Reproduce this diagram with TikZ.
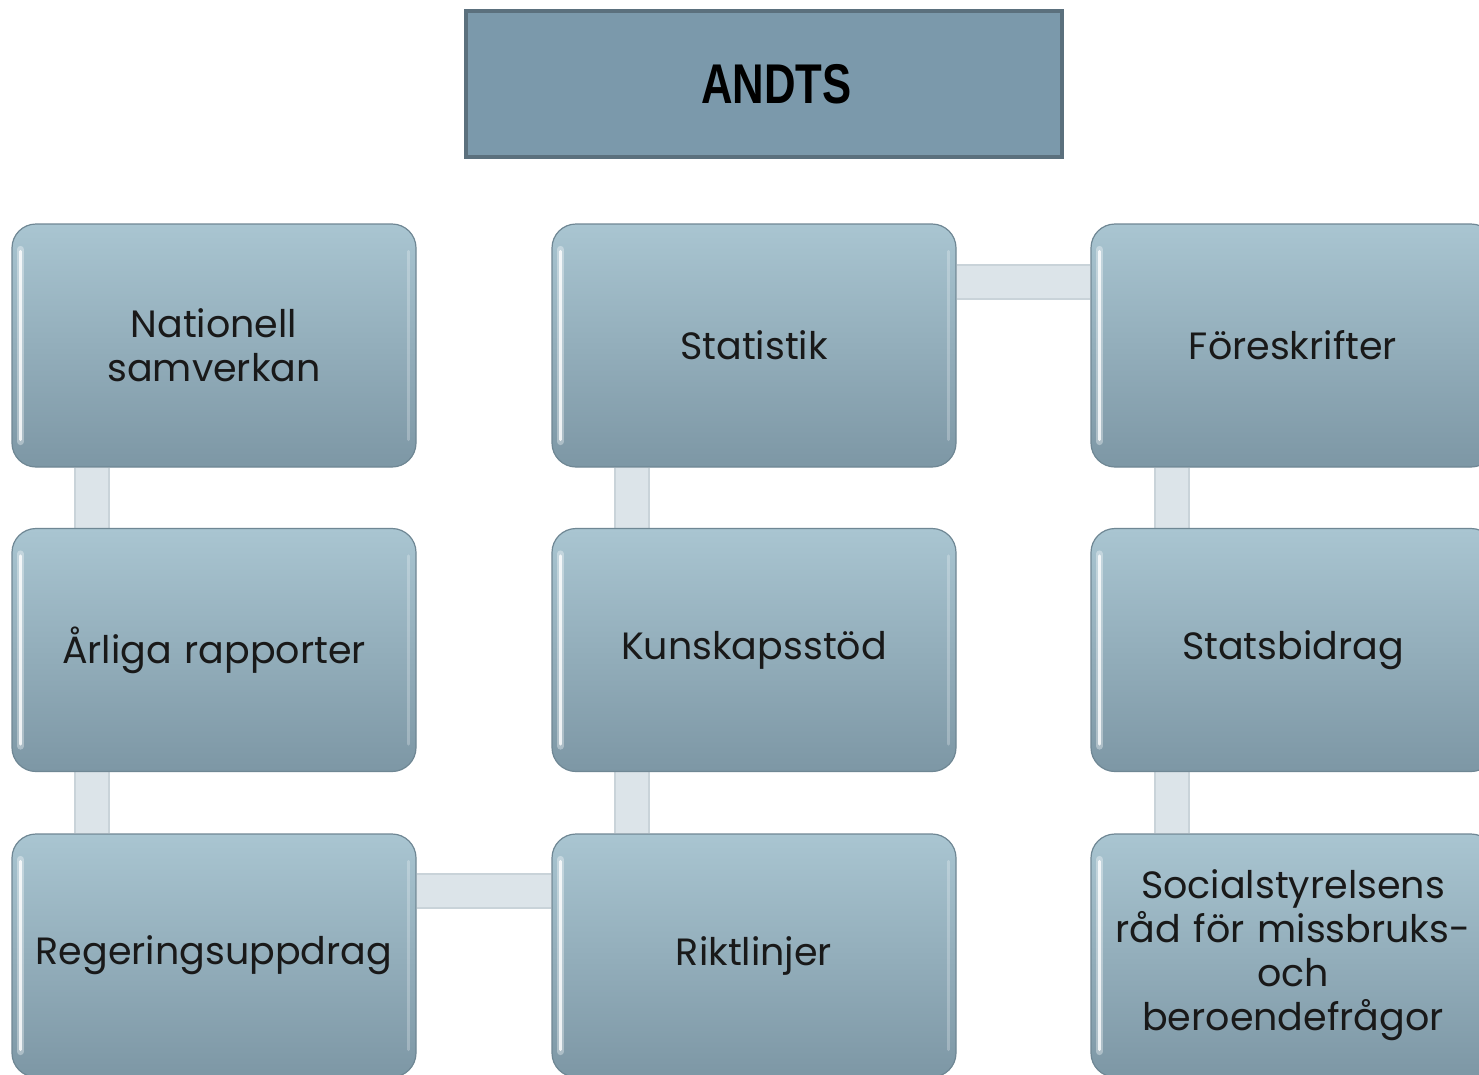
\documentclass[tikz,border=0pt]{standalone}
\usepackage{fontspec}
\setmainfont{Poppins}
\newfontfamily\titlefont{Liberation Sans}
\usetikzlibrary{backgrounds,calc}
\definecolor{boxtop}{HTML}{A9C5D1}
\definecolor{boxbot}{HTML}{7D97A5}
\definecolor{boxedge}{HTML}{6F8794}
\definecolor{connfill}{HTML}{DCE4E9}
\definecolor{connedge}{HTML}{C9D3D9}
\definecolor{titlefill}{HTML}{7B99AB}
\definecolor{titleedge}{HTML}{5B707D}
\tikzset{
  box/.style={rounded corners=24pt, minimum width=404pt, minimum height=243pt,
    top color=boxtop, bottom color=boxbot, draw=boxedge, line width=1.2pt,
    align=center, text width=390pt, font=\fontsize{38}{44}\selectfont, text=black!90,
    inner sep=0pt},
  conn/.style={line width=36pt, connedge},
  conninner/.style={line width=32pt, connfill},
}
\begin{document}
\begin{tikzpicture}[x=1pt,y=-1pt]
\useasboundingbox (0,0) rectangle (1479,1074);
% title
\node[draw=titleedge, fill=titlefill, line width=4pt, minimum width=596pt, minimum height=146pt, inner sep=0pt]
  (title) at (763.5,84) {\hspace*{26pt}\titlefont\bfseries\fontsize{56}{60}\selectfont\scalebox{0.78}[1]{ANDTS}};
% boxes
\node[box] (n1) at (214,345.5) {Nationell\\samverkan};
\node[box] (n2) at (214,650) {Årliga rapporter};
\node[box] (n3) at (214,955.5) {Regeringsuppdrag};
\node[box] (n4) at (754,345.5) {Statistik};
\node[box] (n5) at (754,650) {Kunskapsstöd};
\node[box] (n6) at (754,955.5) {Riktlinjer};
\node[box] (n7) at (1293,345.5) {Föreskrifter};
\node[box] (n8) at (1293,650) {Statsbidrag};
\node[box] (n9) at (1293,955.5) {Socialstyrelsens\\råd för missbruks-\\och\\beroendefrågor};
% highlights
\foreach \n in {n1,n2,n3,n4,n5,n6,n7,n8,n9}{
  \draw[white, opacity=0.35, line width=7pt, line cap=round]
    ([xshift=9pt,yshift=-26pt]\n.north west) -- ([xshift=9pt,yshift=26pt]\n.south west);
  \draw[white, opacity=0.8, line width=3pt, line cap=round]
    ([xshift=9pt,yshift=-28pt]\n.north west) -- ([xshift=9pt,yshift=28pt]\n.south west);
  \draw[white, opacity=0.25, line width=3pt, line cap=round]
    ([xshift=-8pt,yshift=-28pt]\n.north east) -- ([xshift=-8pt,yshift=28pt]\n.south east);
}
\begin{scope}[on background layer]
\fill[white] (0,0) rectangle (1479,1074);
\foreach \a/\b/\s in {n1/n2/81,n2/n3/81,n4/n5/81,n5/n6/81,n7/n8/82,n8/n9/82}{
  \draw[conn] ([xshift=\s pt]\a.south west) -- ([xshift=\s pt]\b.north west);
  \draw[conninner] ([xshift=\s pt]\a.south west) -- ([xshift=\s pt]\b.north west);
}
\draw[conn] ([yshift=-59pt]n4.north east) -- ([yshift=-59pt]n7.north west);
\draw[conninner] ([yshift=-59pt]n4.north east) -- ([yshift=-59pt]n7.north west);
\draw[conn] ([yshift=-58pt]n3.north east) -- ([yshift=-58pt]n6.north west);
\draw[conninner] ([yshift=-58pt]n3.north east) -- ([yshift=-58pt]n6.north west);
\end{scope}
\end{tikzpicture}
\end{document}
